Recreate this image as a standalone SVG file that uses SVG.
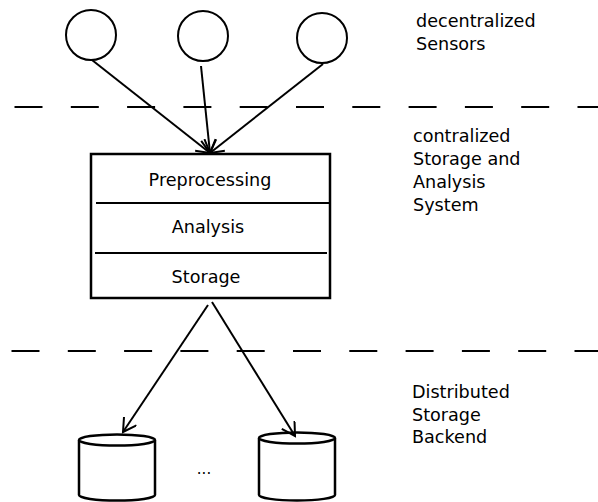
<svg xmlns="http://www.w3.org/2000/svg" width="598" height="502" viewBox="0 0 598 502">
  <style>
    .shape { fill: #fff; stroke: #000; stroke-width: 2; }
    .thick { stroke-width: 2.5; }
    .line { fill: none; stroke: #000; stroke-width: 2; }
    .dash { fill: none; stroke: #000; stroke-width: 2; stroke-dasharray: 28 28.3; }
    .label { font-family: "DejaVu Sans", sans-serif; font-size: 17.6px; fill: #000; }
    .mid { text-anchor: middle; }
  </style>
  <defs>
    <marker id="arrow" markerUnits="userSpaceOnUse" markerWidth="20" markerHeight="20" refX="14" refY="8" orient="auto">
      <path d="M1,0.5 L14,8 L1,15.5" fill="none" stroke="#000" stroke-width="2"/>
    </marker>
  </defs>

  <rect width="598" height="502" fill="#fff"/>

  <!-- layer separators -->
  <g id="separators">
    <line class="dash" x1="14.5" y1="107" x2="598" y2="107"/>
    <line class="dash" x1="11.5" y1="351" x2="598" y2="351"/>
  </g>

  <!-- sensors -->
  <g id="sensor1"><circle class="shape" cx="91" cy="35" r="25"/></g>
  <g id="sensor2"><circle class="shape" cx="203" cy="36" r="25"/></g>
  <g id="sensor3"><circle class="shape" cx="322" cy="38" r="25"/></g>

  <!-- central system -->
  <g id="system">
    <rect class="shape thick" x="91" y="154" width="239" height="144"/>
    <line class="line" x1="96" y1="203" x2="330" y2="203"/>
    <line class="line" x1="95" y1="253" x2="327" y2="253"/>
    <text class="label mid" x="210" y="186">Preprocessing</text>
    <text class="label mid" x="208" y="233">Analysis</text>
    <text class="label mid" x="206" y="283">Storage</text>
  </g>

  <!-- storage backends -->
  <g id="store1">
    <path class="shape thick" d="M79,440 L79,495 A38,5.5 0 0 0 155,495 L155,440"/>
    <ellipse class="shape thick" cx="117" cy="440" rx="38" ry="5.5"/>
  </g>
  <g id="store2">
    <path class="shape thick" d="M259,438 L259,495 A38,5.5 0 0 0 335,495 L335,438"/>
    <ellipse class="shape thick" cx="297" cy="438" rx="38" ry="5.5"/>
  </g>
  <text id="ellipsis" class="label mid" x="204" y="474" style="font-size:15px">...</text>

  <!-- connectors -->
  <g id="connectors">
    <line class="line" x1="92" y1="60" x2="210" y2="153" marker-end="url(#arrow)"/>
    <line class="line" x1="201" y1="66" x2="210" y2="153" marker-end="url(#arrow)"/>
    <line class="line" x1="323" y1="64" x2="210" y2="153" marker-end="url(#arrow)"/>
    <line class="line" x1="208" y1="305" x2="123" y2="432" marker-end="url(#arrow)"/>
    <line class="line" x1="212" y1="302" x2="295" y2="436" marker-end="url(#arrow)"/>
  </g>

  <!-- layer captions -->
  <g id="captions">
    <text class="label" x="416" y="27">decentralized</text>
    <text class="label" x="416" y="49.5">Sensors</text>
    <text class="label" x="413" y="142">contralized</text>
    <text class="label" x="413" y="165">Storage and</text>
    <text class="label" x="413" y="188">Analysis</text>
    <text class="label" x="413" y="210.5">System</text>
    <text class="label" x="412" y="398">Distributed</text>
    <text class="label" x="412" y="420.5">Storage</text>
    <text class="label" x="412" y="443">Backend</text>
  </g>
</svg>
